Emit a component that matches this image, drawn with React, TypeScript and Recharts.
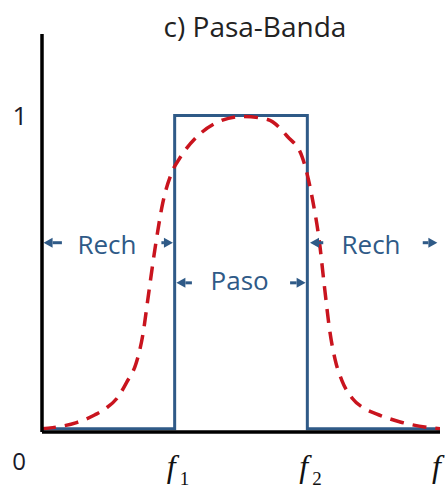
import { LineChart, Line, XAxis, YAxis, ReferenceLine, ReferenceDot } from "recharts";

// filter response sketch: ideal band-pass (blue) vs real (red dashed)
const stepFreq = [0, 1, 1, 2, 2, 3];
const stepGain = [0, 0, 1, 1, 0, 0];

const realFreq = [0, 0.08, 0.26, 0.4, 0.48, 0.57, 0.64, 0.71, 0.76, 0.8, 0.85, 0.91, 0.98, 1.04, 1.17, 1.32, 1.51, 1.7, 1.85, 1.96, 2.04, 2.09, 2.13, 2.17, 2.21, 2.26, 2.34, 2.43, 2.52, 2.7, 2.92, 3];
const realGain = [0, 0.004, 0.02, 0.045, 0.065, 0.1, 0.15, 0.21, 0.3, 0.42, 0.57, 0.72, 0.82, 0.865, 0.933, 0.978, 0.997, 0.987, 0.933, 0.869, 0.73, 0.6, 0.45, 0.31, 0.22, 0.155, 0.097, 0.065, 0.048, 0.022, 0.004, 0];

const xTicks = [0, 1, 2, 3];
const xTickLabels = ["0", "f", "f", "f"];
const xTickSubs = ["", "1", "2", ""];
const yTicks = [1];

// annotation arrows [fromX, fromY, toX, toY] in data units
const arrows = [
  [0.15, 0.594, 0.012, 0.594],
  [0.9, 0.594, 0.987, 0.594],
  [1.13, 0.466, 1.013, 0.466],
  [1.87, 0.466, 1.987, 0.466],
  [2.12, 0.594, 2.02, 0.594],
  [2.87, 0.594, 2.98, 0.594],
];
const bandNames = ["Rech", "Paso", "Rech"];
const bandX = [0.49, 1.49, 2.48];
const bandY = [0.589, 0.473, 0.589];

const stepData = stepFreq.map((x, i) => ({ x, y: stepGain[i] }));
const realData = realFreq.map((x, i) => ({ x, y: realGain[i] }));

const BLUE = "#2f5a87";
const RED = "#c9141e";

function Arrow(props: any) {
  const { x1, y1, x2, y2 } = props;
  const ang = Math.atan2(y2 - y1, x2 - x1);
  const head = 9;
  const half = 5;
  const bx = x2 - head * Math.cos(ang);
  const by = y2 - head * Math.sin(ang);
  const px = -Math.sin(ang) * half;
  const py = Math.cos(ang) * half;
  return (
    <g>
      <line x1={x1} y1={y1} x2={bx} y2={by} stroke={BLUE} strokeWidth={3} />
      <polygon points={`${x2},${y2} ${bx + px},${by + py} ${bx - px},${by - py}`} fill={BLUE} />
    </g>
  );
}

function XTick(props: any) {
  const { y, payload, index } = props;
  const cx = payload.coordinate;
  if (payload.value === 0) {
    return (
      <text x={cx - 23} y={y + 36} textAnchor="middle" fontFamily="Open Sans" fontSize={24} fill="#1a1a2a">
        0
      </text>
    );
  }
  return (
    <g>
      <text x={cx - 8} y={y + 43} fontFamily="Liberation Serif" fontStyle="italic" fontSize={32} fill="#111">
        {xTickLabels[index]}
      </text>
      {xTickSubs[index] && (
        <text x={cx + 5} y={y + 51} fontFamily="Liberation Serif" fontSize={19} fill="#111">
          {xTickSubs[index]}
        </text>
      )}
    </g>
  );
}

function YTick(props: any) {
  const { payload } = props;
  return (
    <text x={20} y={payload.coordinate} dy="0.357em" textAnchor="middle" fontFamily="Open Sans" fontSize={26} fill="#1a1a2a">
      {payload.value}
    </text>
  );
}

export default function App() {
  return (
    <div style={{ position: "absolute", left: 0, top: 0, width: 445, height: 490, background: "#fff" }}>
      <div
        style={{
          position: "absolute",
          left: 0,
          top: 12,
          width: 510,
          textAlign: "center",
          fontFamily: "Open Sans",
          fontSize: 28,
          lineHeight: "28px",
          color: "#222",
        }}
      >
        c) Pasa-Banda
      </div>
      <LineChart width={445} height={490} margin={{ top: 34, right: 5, left: 0, bottom: 0 }}>
        <XAxis
          type="number"
          dataKey="x"
          domain={[0, 3]}
          ticks={xTicks}
          tick={<XTick />}
          tickSize={0}
          tickLine={false}
          axisLine={{ stroke: "#000", strokeWidth: 3.5 }}
          height={58}
          allowDataOverflow
          interval={0}
        />
        <YAxis
          type="number"
          domain={[-0.01, 1.26]}
          ticks={yTicks}
          tick={<YTick />}
          tickSize={0}
          tickLine={false}
          axisLine={{ stroke: "#000", strokeWidth: 3.5 }}
          width={42}
          allowDataOverflow
        />
        <Line data={stepData} dataKey="y" type="linear" stroke={BLUE} strokeWidth={3} dot={false} isAnimationActive={false} />
        <Line
          data={realData}
          dataKey="y"
          type="monotone"
          stroke={RED}
          strokeWidth={3.5}
          strokeDasharray="14 9"
          dot={false}
          isAnimationActive={false}
        />
        {arrows.map((a, i) => (
          <ReferenceLine
            key={i}
            segment={[
              { x: a[0], y: a[1] },
              { x: a[2], y: a[3] },
            ]}
            ifOverflow="visible"
            shape={<Arrow />}
          />
        ))}
        {bandNames.map((name, i) => (
          <ReferenceDot
            key={name + i}
            x={bandX[i]}
            y={bandY[i]}
            r={0}
            ifOverflow="visible"
            shape={(p: any) => (
              <text x={p.cx} y={p.cy} dy="0.357em" textAnchor="middle" fontFamily="Open Sans" fontSize={26} fill={BLUE}>
                {name}
              </text>
            )}
          />
        ))}
      </LineChart>
    </div>
  );
}
